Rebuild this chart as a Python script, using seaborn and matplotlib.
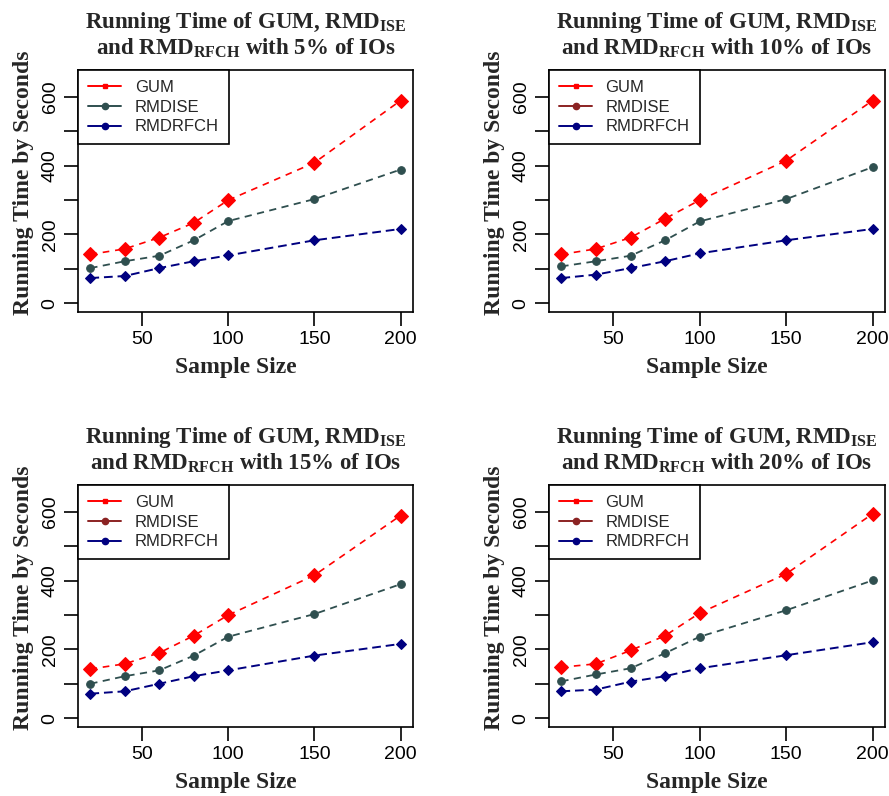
import pandas as pd
import seaborn as sns
import matplotlib.pyplot as plt
from matplotlib.lines import Line2D

# Sample sizes (x axis)
sample_size = [20, 40, 60, 80, 100, 150, 200]

# Running times (5%, 10%, 15%, 20% of IOs)
io_levels = ['5%', '10%', '15%', '20%']
gum = [
    [142, 158, 191, 234, 300, 409, 590],
    [142, 158, 191, 246, 300, 415, 590],
    [143, 158, 190, 240, 300, 416, 590],
    [148, 158, 197, 240, 306, 420, 595],
]
rmd_ise = [
    [102, 122, 138, 183, 239, 303, 389],
    [107, 122, 138, 183, 238, 303, 396],
    [100, 122, 139, 182, 237, 303, 390],
    [107, 127, 145, 189, 237, 314, 401],
]
rmd_rfch = [
    [73, 79, 102, 122, 139, 183, 216],
    [73, 83, 102, 122, 145, 183, 216],
    [71, 78, 100, 122, 139, 182, 216],
    [78, 83, 106, 122, 145, 183, 221],
]

sns.set_style('ticks')
plt.rcParams['font.family'] = ['Liberation Sans', 'DejaVu Sans']
plt.rcParams['mathtext.fontset'] = 'custom'
plt.rcParams['mathtext.rm'] = 'Liberation Serif:bold'
plt.rcParams['mathtext.it'] = 'Liberation Serif:bold'
plt.rcParams['mathtext.bf'] = 'Liberation Serif:bold'

RED, SLATE, NAVY, BROWN = '#ff0000', '#2f4f4f', '#000080', '#8b2323'

fig = plt.figure(figsize=(8.89, 7.96), dpi=100)
rects = [
    [0.0877, 0.608, 0.3768, 0.304],
    [0.6175, 0.608, 0.378, 0.304],
    [0.0877, 0.0867, 0.3768, 0.304],
    [0.6175, 0.0867, 0.378, 0.304],
]

serif = dict(family='Liberation Serif', weight='bold')

for i, rect in enumerate(rects):
    ax = fig.add_axes(rect)
    df = pd.DataFrame({'n': sample_size, 'GUM': gum[i],
                       'RMDISE': rmd_ise[i], 'RMDRFCH': rmd_rfch[i]})

    # GUM: red dashed with big diamonds
    sns.lineplot(data=df, x='n', y='GUM', ax=ax, color=RED, lw=1.2,
                 linestyle=(0, (4, 3.5)), marker='D', ms=7,
                 markeredgecolor=RED, legend=False)
    sns.lineplot(data=df, x='n', y='RMDISE', ax=ax, color=SLATE, lw=1.3,
                 linestyle=(0, (4, 3)), marker='o', ms=5.5,
                 markeredgecolor=SLATE, legend=False)
    sns.lineplot(data=df, x='n', y='RMDRFCH', ax=ax, color=NAVY, lw=1.4,
                 linestyle=(0, (4.5, 2.5)), marker='D', ms=5,
                 markeredgecolor=NAVY, legend=False)

    ax.set_xlim(12.8, 207.2)
    ax.set_ylim(-26, 679)
    ax.set_xticks([50, 100, 150, 200])
    ax.set_yticks(range(0, 700, 100))
    ax.set_yticklabels(['0', '', '200', '', '400', '', '600'])
    ax.tick_params(direction='out', length=10, width=1.2, pad=4,
                   labelsize=14, color='black', labelcolor='black')
    ax.tick_params(axis='y', labelrotation=90)
    for lab in ax.get_yticklabels():
        lab.set_va('center')
    for sp in ax.spines.values():
        sp.set_visible(True)
        sp.set_linewidth(1.2)
        sp.set_color('black')

    ax.set_xlabel('Sample Size', fontsize=17, **serif)
    ax.set_ylabel('Running Time by Seconds', fontsize=17, **serif)
    ax.xaxis.set_label_coords(0.47, -0.185)
    ax.yaxis.set_label_coords(-0.132, 0.535)

    title = ('Running Time of GUM, RMD$_{\\mathrm{ISE}}$\n'
             'and RMD$_{\\mathrm{RFCH}}$ with ' + io_levels[i] + ' of IOs')
    ax.set_title(title, fontsize=16.5, pad=11, linespacing=1.1, **serif)

    ise_col = SLATE if i == 0 else BROWN
    handles = [
        Line2D([], [], color=RED, lw=1.4, marker='s', ms=3.5),
        Line2D([], [], color=ise_col, lw=1.4, marker='o', ms=4.5),
        Line2D([], [], color=NAVY, lw=1.4, marker='o', ms=4.5),
    ]
    leg = ax.legend(handles, ['GUM', 'RMDISE', 'RMDRFCH'], loc='upper left',
                    bbox_to_anchor=(0, 1), borderaxespad=0, fontsize=12,
                    frameon=True, fancybox=False, framealpha=1,
                    edgecolor='black', borderpad=0.6, labelspacing=0.28,
                    handlelength=2.0, handletextpad=0.8)
    leg.get_frame().set_linewidth(1.2)

fig.savefig('out.png', dpi=100)
